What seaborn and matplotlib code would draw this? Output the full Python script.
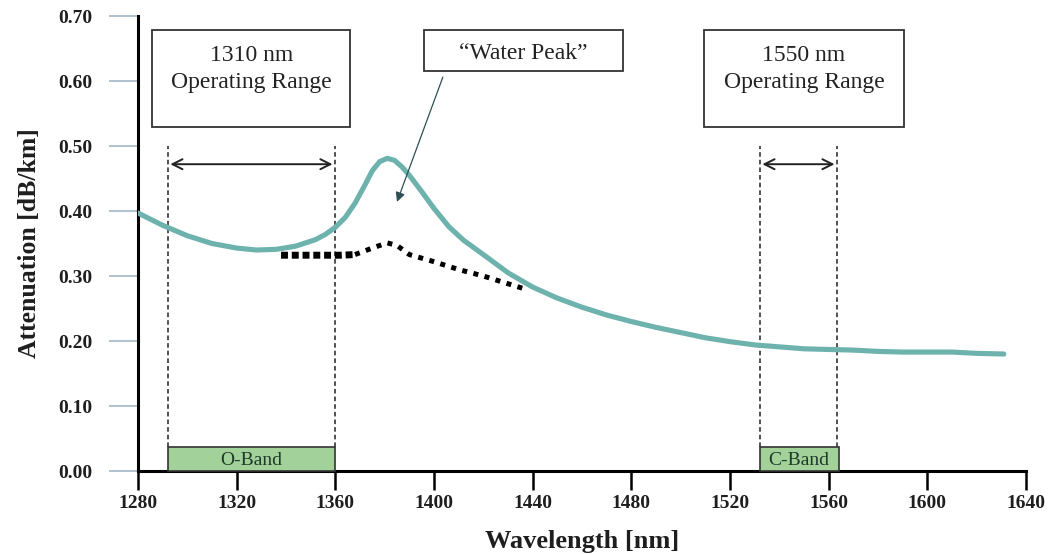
import numpy as np
import pandas as pd
import seaborn as sns
import matplotlib
matplotlib.use("Agg")
import matplotlib.pyplot as plt
from matplotlib.patches import Rectangle

# ---- data ----
wavelength = [1280, 1290, 1300, 1310, 1320, 1328, 1336, 1344, 1352, 1356, 1360, 1364, 1368, 1372,
              1375, 1378, 1381, 1384, 1387, 1390, 1395, 1400, 1406, 1412, 1420, 1430, 1440, 1450,
              1460, 1470, 1480, 1490, 1500, 1510, 1520, 1530, 1540, 1550, 1560, 1570,
              1580, 1590, 1600, 1610, 1620, 1631]
attenuation = [0.397, 0.378, 0.362, 0.350, 0.343, 0.340, 0.341, 0.346, 0.356, 0.364, 0.375, 0.390, 0.412, 0.440,
               0.462, 0.476, 0.481, 0.478, 0.468, 0.455, 0.430, 0.404, 0.376, 0.355, 0.333, 0.305, 0.283, 0.266,
               0.252, 0.240, 0.230, 0.221, 0.213, 0.205, 0.199, 0.194, 0.191, 0.188, 0.187, 0.186,
               0.184, 0.183, 0.183, 0.183, 0.181, 0.180]
low_wp_x1 = [1338, 1350, 1362, 1368]
low_wp_y1 = [0.332, 0.332, 0.332, 0.333]
low_wp_x2 = [1368, 1375, 1381, 1385, 1390, 1400, 1410, 1420, 1436]
low_wp_y2 = [0.333, 0.343, 0.351, 0.347, 0.333, 0.322, 0.310, 0.300, 0.281]

bands = ["O-Band", "C-Band"]
band_start = [1292, 1532]
band_end = [1360, 1564]
band_height = 0.037

x_ticks = [1280, 1320, 1360, 1400, 1440, 1480, 1520, 1560, 1600, 1640]
y_ticks = [0.00, 0.10, 0.20, 0.30, 0.40, 0.50, 0.60, 0.70]

# ---- style ----
sns.set_theme(style="white")
plt.rcParams["font.family"] = ["Liberation Serif", "DejaVu Serif"]

fig = plt.figure(figsize=(10.53, 5.54), dpi=100)
ax = fig.add_axes([0.131, 0.1498, 0.8434, 0.8213])

teal = "#6db2ad"
df = pd.DataFrame({"wl": wavelength, "att": attenuation})
sns.lineplot(data=df, x="wl", y="att", ax=ax, color=teal, linewidth=3.7, zorder=3)
for l in ax.get_lines():
    l.set_solid_joinstyle("round")
    l.set_solid_capstyle("round")

sns.lineplot(x=low_wp_x1, y=low_wp_y1, ax=ax, color="black", linewidth=5,
             linestyle=(0, (1.0, 0.55)), zorder=4)
sns.lineplot(x=low_wp_x2, y=low_wp_y2, ax=ax, color="black", linewidth=3.6,
             linestyle=(0, (1.0, 1.3)), zorder=4)

ax.set_xlim(1280, 1640)
ax.set_ylim(0, 0.70)
ax.set_xticks(x_ticks)
ax.set_xticklabels([str(t) for t in x_ticks])
ax.set_yticks(y_ticks)
ax.set_yticklabels([f"{t:.2f}" for t in y_ticks])

for s in ["top", "right"]:
    ax.spines[s].set_visible(False)
for s in ["left", "bottom"]:
    ax.spines[s].set_color("black")
    ax.spines[s].set_linewidth(2.2)

ax.tick_params(axis="x", direction="out", length=14, width=1.8, color="black",
               labelsize=14, pad=3, bottom=True)
ax.tick_params(axis="y", direction="out", length=21, width=1.3, color="#a9bccc",
               labelsize=14, pad=12, left=True)
for lab in ax.get_xticklabels() + ax.get_yticklabels():
    lab.set_fontweight("bold")
    lab.set_color("#1e1e1e")
for t, v in zip(ax.yaxis.get_major_ticks(), y_ticks):
    if v in (0.70, 0.20):
        t.tick1line.set_color("black")

ax.set_xlabel("Wavelength [nm]", fontsize=19, fontweight="bold", color="#1e1e1e", labelpad=13)
ax.set_ylabel("Attenuation [dB/km]", fontsize=18.5, fontweight="bold", color="#1e1e1e", labelpad=12)

# band boxes
for name, s, e in zip(bands, band_start, band_end):
    ax.add_patch(Rectangle((s, 0), e - s, band_height, facecolor="#a3d19a",
                           edgecolor="#333333", linewidth=1.2, zorder=5, clip_on=False))
    ax.text((s + e) / 2, band_height / 2 - 0.003, name, ha="center", va="center",
            fontsize=14, color="#1f3a2a", zorder=6)

# vertical dashed lines
for x in [1292, 1360, 1532, 1563.5]:
    ax.plot([x, x], [band_height, 0.50], color="#222222", linestyle=(0, (3, 2)),
            linewidth=1.1, zorder=2)

# double arrows
arrow_kw = dict(arrowstyle="<->", color="#222222", lw=1.4, mutation_scale=18)
ax.annotate("", xy=(1292, 0.472), xytext=(1360, 0.472), arrowprops=arrow_kw)
ax.annotate("", xy=(1532, 0.472), xytext=(1563.5, 0.472), arrowprops=arrow_kw)

# text boxes
def box(x0, x1, y0, y1):
    ax.add_patch(Rectangle((x0, y0), x1 - x0, y1 - y0, facecolor="white",
                           edgecolor="#333333", linewidth=1.3, zorder=6))

fs = 17
box(1285.8, 1366.0, 0.529, 0.678)
ax.text(1326, 0.640, "1310 nm", ha="center", va="center", fontsize=fs, color="#222222", zorder=7)
ax.text(1326, 0.597, "Operating Range", ha="center", va="center", fontsize=fs, color="#222222", zorder=7)

box(1395.8, 1476.5, 0.616, 0.678)
ax.text(1436, 0.642, "\u201cWater Peak\u201d", ha="center", va="center", fontsize=fs,
        color="#222222", zorder=7)

box(1509.5, 1590.5, 0.529, 0.678)
ax.text(1550, 0.640, "1550 nm", ha="center", va="center", fontsize=fs, color="#222222", zorder=7)
ax.text(1550, 0.597, "Operating Range", ha="center", va="center", fontsize=fs, color="#222222", zorder=7)

ax.annotate("", xy=(1385, 0.414), xytext=(1403.6, 0.606),
            arrowprops=dict(arrowstyle="-|>", color="#2f4f55", lw=0.9,
                            mutation_scale=14, shrinkA=0, shrinkB=0), zorder=7)

fig.savefig("out.png", dpi=100, facecolor="white")
